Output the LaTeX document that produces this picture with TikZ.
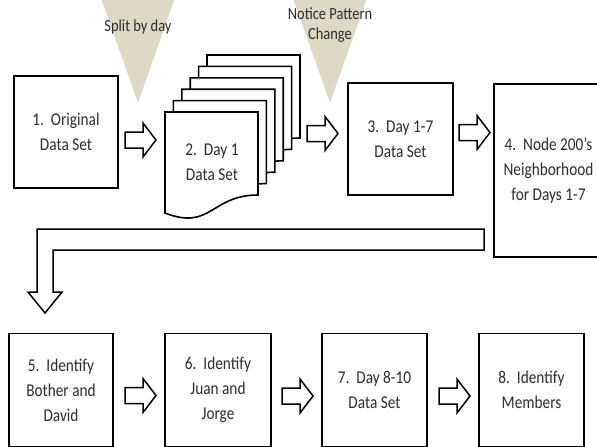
\documentclass[tikz,border=0pt]{standalone}
\usepackage{fontspec}
\setmainfont{Carlito}[FakeStretch=0.85]
\definecolor{tricol}{RGB}{221,217,196}
\definecolor{txt}{RGB}{45,45,45}
\tikzset{
  box/.style={draw, line width=1.8pt, fill=white, align=center, text=txt,
    font=\fontsize{18}{25}\selectfont, inner sep=0pt},
  barrow/.style={draw, line width=1.5pt, fill=white, line join=miter},
  trishape/.style={fill=tricol},
  trilabel/.style={text=txt, font=\fontsize{17}{20}\selectfont, align=center},
  docshape/.style={draw, line width=1.6pt, fill=white},
  doclabel/.style={text=txt, font=\fontsize{18}{25}\selectfont, align=center},
  blockarr/.pic={\draw[barrow] (0,-8) -- (18,-8) -- (18,-17) -- (31,0) -- (18,17) -- (18,8) -- (0,8) -- cycle;}
}
\begin{document}
\begin{tikzpicture}[x=1pt,y=-1pt]
\useasboundingbox (0,0) rectangle (597,447);
\clip (0,0) rectangle (597,447);
% triangles
\fill[trishape] (101,-2) -- (175,-2) -- (138,103) -- cycle;
\fill[trishape] (293,-2) -- (367,-2) -- (330,103) -- cycle;
\node[trilabel] (t1) at (138,27) {Split by day};
\node[trilabel] (t2) at (330,25) {Notice Pattern\\Change};
% boxes
\node[box, minimum width=104pt, minimum height=112pt] (b1) at (66,132) {1.~~Original\\Data Set};
% stacked documents
\foreach \i in {5,4,3,2,1,0} {
  \pgfmathsetmacro\dx{165+8.4*\i}
  \pgfmathsetmacro\dy{112-11.4*\i}
  \draw[docshape] (\dx,\dy) -- (\dx+93,\dy) -- (\dx+93,\dy+83)
    .. controls (\dx+46,\dy+83) and (\dx+46,\dy+119) .. (\dx,\dy+101) -- cycle;
}
\node[doclabel] (b2) at (212,162) {2.~~Day 1\\Data Set};
\node[box, minimum width=105pt, minimum height=112pt] (b3) at (400.5,139) {3.~~Day 1-7\\Data Set};
\node[box, minimum width=109pt, minimum height=173pt] (b4) at (548.5,170.5) {4.~~Node 200’s\\Neighborhood\\for Days 1-7};
\node[box, minimum width=104pt, minimum height=113pt] (b5) at (61,390) {5.~~Identify\\Bother and\\David};
\node[box, minimum width=106pt, minimum height=113pt] (b6) at (218,390) {6.~~Identify\\Juan and\\Jorge};
\node[box, minimum width=105pt, minimum height=113pt] (b7) at (374.5,390) {7.~~Day 8-10\\Data Set};
\node[box, minimum width=105pt, minimum height=113pt] (b8) at (531.5,390) {8.~~Identify\\Members};
% block arrows
\pic at (125,140) {blockarr};
\pic at (307,133.5) {blockarr};
\pic at (459,132.5) {blockarr};
\pic at (125,395.5) {blockarr};
\pic at (282,396) {blockarr};
\pic at (439,396) {blockarr};
% bent arrow
\draw[barrow] (484,229) -- (37,229) -- (37,292) -- (28,292) -- (45,313) -- (62,292) -- (53,292) -- (53,250) -- (484,250) -- cycle;
\end{tikzpicture}
\end{document}
